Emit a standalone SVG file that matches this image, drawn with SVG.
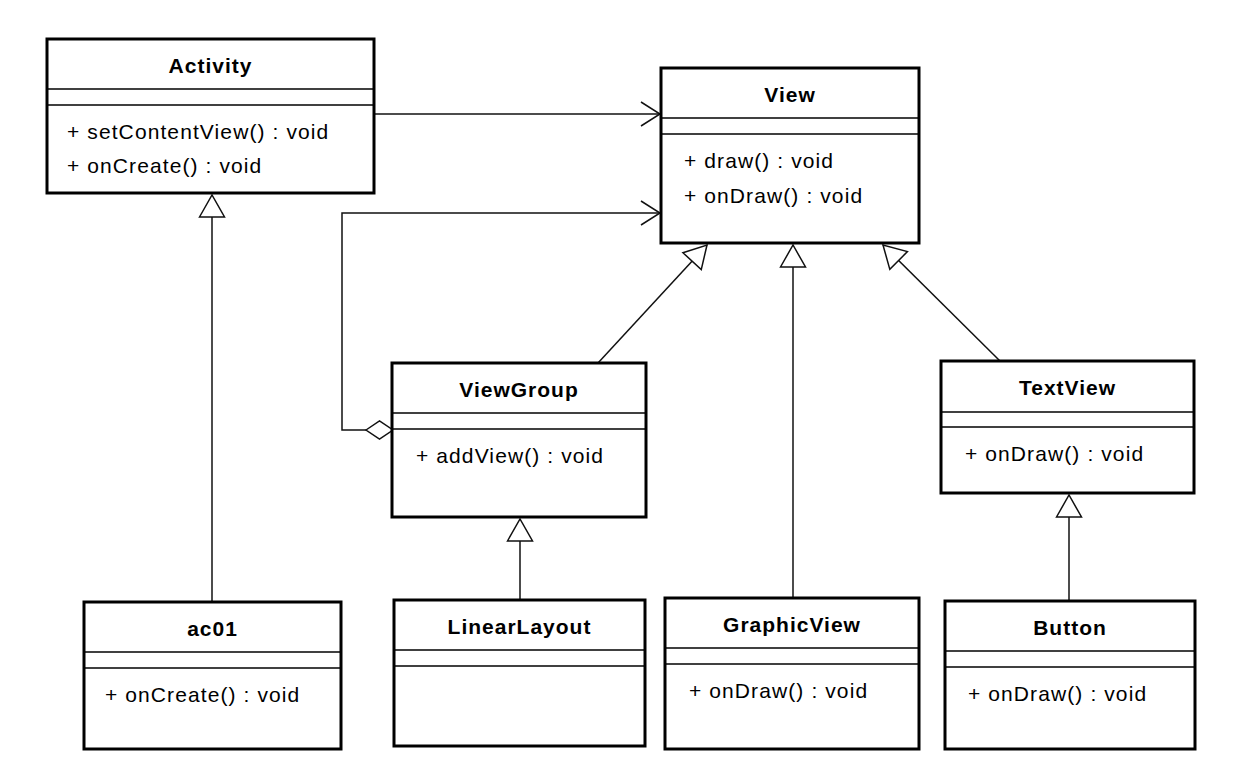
<svg xmlns="http://www.w3.org/2000/svg" width="1256" height="784" viewBox="0 0 1256 784">
<defs>
<style>
.box{fill:#fff;stroke:#000;stroke-width:3}
.div{stroke:#000;stroke-width:1.5}
.t{font-family:"Liberation Sans",Arial,sans-serif;font-size:21px;font-weight:bold;text-anchor:middle;letter-spacing:1px;fill:#000}
.m{font-family:"Liberation Sans",Arial,sans-serif;font-size:21px;letter-spacing:1.1px;fill:#000}
.c{fill:none;stroke:#111;stroke-width:1.5}
</style>
<marker id="gen" viewBox="-2 -15 26 30" markerWidth="26" markerHeight="30" refX="22" refY="0" orient="auto" markerUnits="userSpaceOnUse">
<path d="M0,-12.5 L22,0 L0,12.5 Z" fill="#fff" stroke="#111" stroke-width="1.5"/>
</marker>
<marker id="open" viewBox="-2 -14 24 28" markerWidth="24" markerHeight="28" refX="19" refY="0" orient="auto" markerUnits="userSpaceOnUse">
<path d="M0,-12 L19,0 L0,12" fill="none" stroke="#111" stroke-width="1.5"/>
</marker>
</defs>
<rect width="1256" height="784" fill="#fff"/>
<g id="connectors">
<path class="c" d="M374,114 H660" marker-end="url(#open)"/>
<path class="c" d="M366,430 H342 V213 H660" marker-end="url(#open)"/>
<polygon points="366,430 379.5,421 393,430 379.5,439" fill="#fff" stroke="#111" stroke-width="1.5"/>
<path class="c" d="M212,602 V195" marker-end="url(#gen)"/>
<path class="c" d="M520,600 V519" marker-end="url(#gen)"/>
<path class="c" d="M598,363 L707,245" marker-end="url(#gen)"/>
<path class="c" d="M793,598 V245" marker-end="url(#gen)"/>
<path class="c" d="M1000,361 L883,245" marker-end="url(#gen)"/>
<path class="c" d="M1069,601 V495" marker-end="url(#gen)"/>
</g>
<g id="Activity">
<rect class="box" x="47" y="39" width="327" height="154"/>
<line class="div" x1="47" y1="89" x2="374" y2="89"/>
<line class="div" x1="47" y1="105" x2="374" y2="105"/>
<text class="t" x="210.5" y="73">Activity</text>
<text class="m" x="67" y="139">+ setContentView() : void</text>
<text class="m" x="67" y="173">+ onCreate() : void</text>
</g>
<g id="View">
<rect class="box" x="661" y="68" width="258" height="175"/>
<line class="div" x1="661" y1="118" x2="919" y2="118"/>
<line class="div" x1="661" y1="134" x2="919" y2="134"/>
<text class="t" x="790" y="102">View</text>
<text class="m" x="684" y="168">+ draw() : void</text>
<text class="m" x="684" y="203">+ onDraw() : void</text>
</g>
<g id="ViewGroup">
<rect class="box" x="392" y="363" width="254" height="154"/>
<line class="div" x1="392" y1="413" x2="646" y2="413"/>
<line class="div" x1="392" y1="429" x2="646" y2="429"/>
<text class="t" x="519" y="397">ViewGroup</text>
<text class="m" x="416" y="463">+ addView() : void</text>
</g>
<g id="TextView">
<rect class="box" x="941" y="361" width="253" height="132"/>
<line class="div" x1="941" y1="412" x2="1194" y2="412"/>
<line class="div" x1="941" y1="427" x2="1194" y2="427"/>
<text class="t" x="1067.5" y="395">TextView</text>
<text class="m" x="965" y="461">+ onDraw() : void</text>
</g>
<g id="ac01">
<rect class="box" x="84" y="602" width="257" height="147"/>
<line class="div" x1="84" y1="652" x2="341" y2="652"/>
<line class="div" x1="84" y1="668" x2="341" y2="668"/>
<text class="t" x="212.5" y="636">ac01</text>
<text class="m" x="105" y="702">+ onCreate() : void</text>
</g>
<g id="LinearLayout">
<rect class="box" x="394" y="600" width="251" height="146"/>
<line class="div" x1="394" y1="650" x2="645" y2="650"/>
<line class="div" x1="394" y1="666" x2="645" y2="666"/>
<text class="t" x="519.5" y="634">LinearLayout</text>
</g>
<g id="GraphicView">
<rect class="box" x="665" y="598" width="254" height="151"/>
<line class="div" x1="665" y1="648" x2="919" y2="648"/>
<line class="div" x1="665" y1="664" x2="919" y2="664"/>
<text class="t" x="792" y="632">GraphicView</text>
<text class="m" x="689" y="698">+ onDraw() : void</text>
</g>
<g id="Button">
<rect class="box" x="945" y="601" width="250" height="148"/>
<line class="div" x1="945" y1="651" x2="1195" y2="651"/>
<line class="div" x1="945" y1="667" x2="1195" y2="667"/>
<text class="t" x="1070" y="635">Button</text>
<text class="m" x="968" y="701">+ onDraw() : void</text>
</g>
</svg>
